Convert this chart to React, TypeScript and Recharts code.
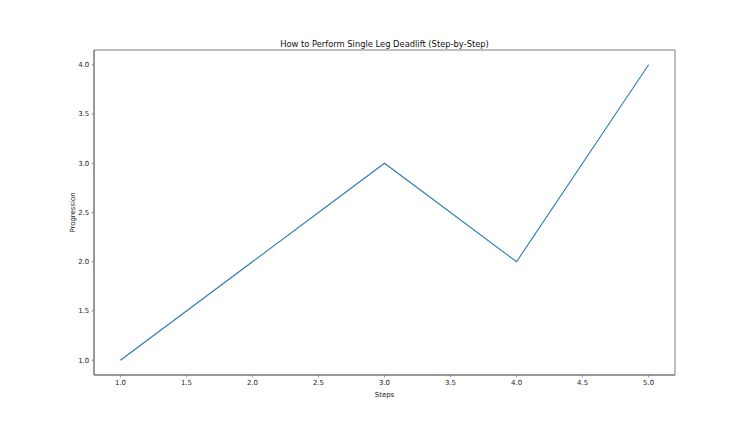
import React from 'react';
import { LineChart, Line, XAxis, YAxis, ReferenceArea, Label, Customized } from 'recharts';

const steps = [1, 2, 3, 4, 5];
const progression = [1, 2, 3, 2, 4];
const xTicks = [1, 1.5, 2, 2.5, 3, 3.5, 4, 4.5, 5];
const yTicks = [1, 1.5, 2, 2.5, 3, 3.5, 4];
const title = 'How to Perform Single Leg Deadlift (Step-by-Step)';

const data = steps.map((s, i) => ({ step: s, value: progression[i] }));

const FONT = 'DejaVu Sans, sans-serif';
const tickStyle = { fontSize: 6.94, fill: '#222', fontFamily: FONT };
const SPINE = '#6e6e6e';

const Title = () => (
  <text x={384.5} y={47} textAnchor="middle" fontSize={8.33} fontFamily={FONT} fill="#111">
    {title}
  </text>
);

export default function App() {
  return (
    <div style={{ position: 'absolute', left: 0, top: 0, width: 750, height: 422, background: '#fff' }}>
      <LineChart width={750} height={422} data={data} margin={{ top: 50, right: 75, left: 0, bottom: 0 }}>
        <XAxis
          dataKey="step"
          type="number"
          domain={[0.8, 5.2]}
          ticks={xTicks}
          allowDataOverflow
          tickFormatter={(v: number) => v.toFixed(1)}
          height={47}
          tick={tickStyle}
          tickSize={2.4}
          tickMargin={2.4}
          stroke={SPINE}
          axisLine={{ stroke: SPINE, strokeWidth: 0.9 }}
          tickLine={{ stroke: SPINE, strokeWidth: 0.7 }}
        >
          <Label value="Steps" position="insideBottom" offset={25} style={{ fontSize: 6.94, fill: '#222', fontFamily: FONT }} />
        </XAxis>
        <YAxis
          type="number"
          domain={[0.85, 4.15]}
          ticks={yTicks}
          allowDataOverflow
          tickFormatter={(v: number) => v.toFixed(1)}
          width={94}
          tick={tickStyle}
          tickSize={2.4}
          tickMargin={2.4}
          stroke={SPINE}
          axisLine={{ stroke: SPINE, strokeWidth: 0.9 }}
          tickLine={{ stroke: SPINE, strokeWidth: 0.7 }}
        >
          <Label
            value="Progression"
            angle={-90}
            position="insideLeft"
            offset={73}
            style={{ textAnchor: 'middle', fontSize: 6.94, fill: '#222', fontFamily: FONT }}
          />
        </YAxis>
        <ReferenceArea x1={0.8} x2={5.2} y1={0.85} y2={4.15} fill="none" stroke={SPINE} strokeWidth={0.9} ifOverflow="visible" />
        <Line
          type="linear"
          dataKey="value"
          stroke="#1f77b4"
          strokeWidth={1.04}
          dot={false}
          activeDot={false}
          isAnimationActive={false}
        />
        <Customized component={Title} />
      </LineChart>
    </div>
  );
}
